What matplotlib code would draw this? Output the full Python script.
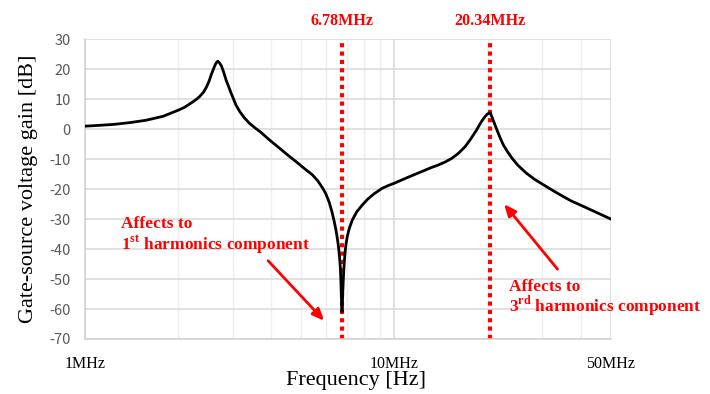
import matplotlib
matplotlib.use("Agg")
import matplotlib.pyplot as plt
from matplotlib.ticker import FixedLocator, NullFormatter

# Gate-source voltage gain response (frequency in MHz, gain in dB)
freq_mhz = [1.00, 1.12, 1.24, 1.40, 1.58, 1.79, 2.00, 2.10, 2.18, 2.27, 2.35,
            2.42, 2.47, 2.52, 2.56, 2.60, 2.64, 2.67, 2.69, 2.72, 2.76, 2.81,
            2.86, 2.92, 2.97, 3.03, 3.08, 3.17, 3.27, 3.40, 3.55, 3.70, 3.95,
            4.25, 4.52, 4.81, 5.10, 5.43, 5.65, 5.85, 6.00, 6.15, 6.28, 6.38,
            6.47, 6.54, 6.60, 6.65, 6.69, 6.71, 6.73, 6.75, 6.77, 6.79, 6.81,
            6.84, 6.88, 6.92, 6.97, 7.04, 7.15, 7.31, 7.55, 7.87, 8.20, 8.58,
            9.13, 9.55, 10.0, 10.85, 11.5, 12.27, 13.0, 13.88, 14.6, 15.32,
            16.1, 16.91, 17.56, 18.0, 18.4, 18.8, 19.13, 19.5, 19.9, 20.34,
            20.6, 20.86, 21.2, 21.6, 22.0, 22.5, 23.2, 24.0, 25.0, 26.6, 28.3,
            30.2, 32.5, 35.1, 37.3, 39.8, 44.5, 50.0]
gain_db = [1.0, 1.3, 1.6, 2.2, 3.0, 4.3, 6.3, 7.3, 8.4, 9.6, 10.9,
           12.4, 14.0, 16.0, 18.1, 19.9, 21.6, 22.4, 22.7, 22.2, 21.2, 19.0,
           16.4, 14.0, 12.0, 9.8, 8.0, 5.8, 3.9, 2.0, 0.4, -1.0, -3.6,
           -6.3, -8.6, -10.8, -13.0, -15.2, -17.2, -19.5, -21.5, -24.3, -27.5, -30.5,
           -33.5, -36.5, -39.5, -43.0, -46.5, -50.0, -54.0, -58.0, -61.0, -58.0, -54.0,
           -49.5, -45.0, -41.5, -38.5, -35.8, -33.0, -30.3, -27.6, -25.3, -23.3, -21.6,
           -19.7, -18.8, -18.0, -16.4, -15.3, -14.1, -13.0, -11.9, -10.9, -9.7,
           -8.0, -5.8, -3.5, -1.8, -0.3, 1.4, 2.7, 3.9, 5.0, 5.5,
           4.3, 2.8, 0.9, -1.2, -3.2, -5.4, -7.6, -9.8, -12.0, -14.6, -16.7,
           -18.5, -20.5, -22.5, -24.0, -25.3, -27.6, -30.0]

# Switching frequency and its third harmonic
marker_freqs = [6.78, 20.34]
marker_labels = ["6.78MHz", "20.34MHz"]

x_ticks = [1, 10, 50]
x_tick_labels = ["1MHz", "10MHz", "50MHz"]
x_minor = [2, 3, 4, 5, 6, 7, 8, 9, 20, 30, 40]
y_ticks = list(range(-70, 31, 10))

RED = "#ff0000"
SERIF = ["Liberation Serif", "DejaVu Serif"]

plt.rcParams["axes.unicode_minus"] = False
plt.rcParams["mathtext.fontset"] = "custom"
plt.rcParams["mathtext.rm"] = "Liberation Serif:bold"
plt.rcParams["mathtext.bf"] = "Liberation Serif:bold"

fig = plt.figure(figsize=(7.10, 3.94), dpi=100)
ax = fig.add_axes([0.1193, 0.1396, 0.7413, 0.7607])

ax.set_xscale("log")
ax.set_xlim(1, 50)
ax.set_ylim(-70, 30)

# grid
ax.xaxis.set_major_locator(FixedLocator(x_ticks))
ax.xaxis.set_minor_locator(FixedLocator(x_minor))
ax.xaxis.set_minor_formatter(NullFormatter())
ax.set_xticklabels(x_tick_labels)
ax.set_yticks(y_ticks)
ax.grid(True, which="major", axis="y", color="#d9d9d9", lw=1.1)
ax.grid(True, which="major", axis="x", color="#d9d9d9", lw=1.1)
ax.grid(True, which="minor", axis="x", color="#efefef", lw=1.0)
ax.set_axisbelow(True)
for side in ["top", "right"]:
    ax.spines[side].set_visible(False)
for side in ["left", "bottom"]:
    ax.spines[side].set_color("#d0d0d0")
    ax.spines[side].set_linewidth(1.1)

ax.tick_params(axis="both", which="both", length=0)
ax.tick_params(axis="y", pad=10, labelsize=10.5, labelcolor="#595959")
ax.tick_params(axis="x", pad=12, labelsize=11.5, labelcolor="black")
for lab in ax.get_yticklabels():
    lab.set_fontfamily(["Noto Sans CJK JP", "DejaVu Sans"])
for lab in ax.get_xticklabels():
    lab.set_fontfamily(SERIF)

# harmonic markers
for f, lab in zip(marker_freqs, marker_labels):
    ax.axvline(f, color=RED, lw=3.0, linestyle=(0, (1, 1)), zorder=2)
    ax.text(f, 1.062, lab, transform=ax.get_xaxis_transform(), ha="center",
            va="center", color=RED, fontsize=11.6, fontweight="bold",
            family=SERIF)

# response curve
ax.plot(freq_mhz, gain_db, color="black", lw=2.0, zorder=3,
        solid_joinstyle="round")

fig.text(0.502, 0.033, "Frequency [Hz]", family=SERIF, fontsize=16,
         ha="center", va="center")
ax.set_ylabel("Gate-source voltage gain [dB]", family=SERIF, fontsize=16,
              labelpad=8)

# annotations
ax.text(1.31, -33.0, "Affects to", color=RED, fontsize=12.5,
        fontweight="bold", family=SERIF, ha="left", va="baseline")
ax.text(1.31, -40.2, r"1$^{\mathbf{st}}$ harmonics component", color=RED,
        fontsize=12.5, fontweight="bold", family=SERIF, ha="left",
        va="baseline")
ax.annotate("", xy=(5.93, -63.9), xytext=(3.91, -43.9),
            arrowprops=dict(arrowstyle="-|>,head_length=0.7,head_width=0.3",
                            color=RED, lw=2.0, shrinkA=0, shrinkB=0))

ax.text(23.4, -54.1, "Affects to", color=RED, fontsize=12.5,
        fontweight="bold", family=SERIF, ha="left", va="baseline",
        clip_on=False)
ax.text(23.4, -60.8, r"3$^{\mathbf{rd}}$ harmonics component", color=RED,
        fontsize=12.5, fontweight="bold", family=SERIF, ha="left",
        va="baseline", clip_on=False)
ax.annotate("", xy=(22.6, -25.0), xytext=(33.6, -46.7),
            arrowprops=dict(arrowstyle="-|>,head_length=0.7,head_width=0.3",
                            color=RED, lw=2.0, shrinkA=0, shrinkB=0))

fig.savefig("out.png", dpi=100)
